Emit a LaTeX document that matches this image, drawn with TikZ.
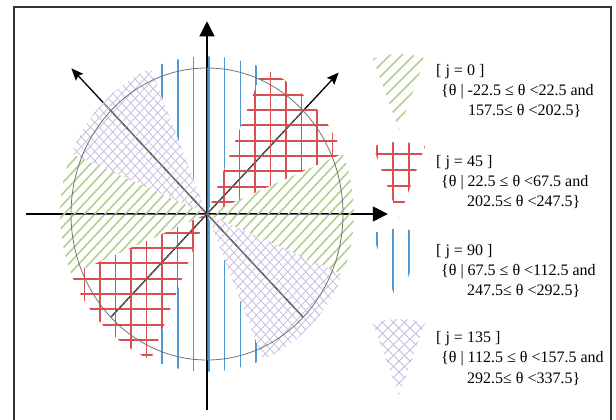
\documentclass[tikz,border=0pt]{standalone}
\usepackage{fontspec}
\setmainfont{Liberation Serif}
\usetikzlibrary{positioning,arrows.meta}
\definecolor{hatchgreen}{RGB}{180,208,142}
\definecolor{hatchred}{RGB}{218,80,80}
\definecolor{hatchblue}{RGB}{78,152,214}
\definecolor{hatchpurple}{RGB}{200,186,222}
\tikzset{
    sectorframe/.style={draw=black!80, line width=1.3pt},
    sectoraxis/.style={draw, line width=1.2pt, -{Triangle[length=15pt, width=15pt]}},
    sectordiag/.style={draw, line width=1.3pt, -{Stealth[length=12pt, width=10pt, inset=2pt]}},
    sectorinner/.style={draw=black!60, line width=0.8pt},
    sectorcircle/.style={draw=black!55, line width=0.8pt},
    hatchzero/.style={draw=hatchgreen, line width=1.6pt},
    hatchfortyfive/.style={draw=hatchred, line width=1.8pt},
    hatchninety/.style={draw=hatchblue, line width=1.5pt},
    hatchonethirtyfive/.style={draw=hatchpurple, line width=0.75pt},
    legendhead/.style={anchor=base west, inner sep=0pt, font=\fontsize{16}{18}\selectfont},
    legendline/.style={legendhead}
}

\begin{document}
\begin{tikzpicture}[x=1pt, y=1pt]
    \useasboundingbox (0,0) rectangle (616,420);
    \draw[sectorframe] (14,-2) -- (14,413) -- (611,413) -- (611,-2);

    % sector diagram
    \begin{scope}[shift={(207,206)}, x=136pt, y=146pt]
        \coordinate (origin) at (0,0);
        \coordinate (westend) at (-1.33,0);
        \coordinate (eastend) at (1.33,0);
        \coordinate (southend) at (0,-1.34);
        \coordinate (northend) at (0,1.32);
        \coordinate (swend) at (225:1);
        \coordinate (neend) at (45:1.37);
        \coordinate (seend) at (315:1);
        \coordinate (nwend) at (135:1.41);
        \coordinate (westrim) at (180:1);
        \coordinate (eastrim) at (0:1);
        \coordinate (southrim) at (270:1);
        \coordinate (northrim) at (90:1);
        \coordinate (nerim) at (45:1);
        \coordinate (nwrim) at (135:1);

        \draw[sectoraxis] (westend) -- (eastend);
        \draw[sectoraxis] (southend) -- (northend);
        \draw[sectordiag] (swend) -- (neend);
        \draw[sectordiag] (seend) -- (nwend);

        % j = 0
        \begin{scope}
            \clip (0,0) -- (-22.5:1.08) arc[start angle=-22.5, end angle=22.5, radius=1.08] -- cycle
                  (0,0) -- (157.5:1.08) arc[start angle=157.5, end angle=202.5, radius=1.08] -- cycle;
            \foreach \k in {-22,...,22}
                \draw[hatchzero] (\k*0.075-1.2,-1.2) -- ++(2.4,2.4);
        \end{scope}

        % j = 45
        \begin{scope}
            \clip (0,0) -- (22.5:1.08) arc[start angle=22.5, end angle=67.5, radius=1.08] -- cycle
                  (0,0) -- (202.5:1.08) arc[start angle=202.5, end angle=247.5, radius=1.08] -- cycle;
            \foreach \k in {-11,...,11} {
                \draw[hatchfortyfive] (0.125+\k*0.114,-1.2) -- ++(0,2.4);
                \draw[hatchfortyfive] (-1.2,0.082+\k*0.105) -- ++(2.4,0);
            }
        \end{scope}

        % j = 90
        \begin{scope}
            \clip (0,0) -- (67.5:1.08) arc[start angle=67.5, end angle=112.5, radius=1.08] -- cycle
                  (0,0) -- (247.5:1.08) arc[start angle=247.5, end angle=292.5, radius=1.08] -- cycle;
            \foreach \k in {-4,...,4}
                \draw[hatchninety] (0.015+\k*0.115,-1.2) -- ++(0,2.4);
        \end{scope}

        % j = 135
        \begin{scope}
            \clip (0,0) -- (112.5:1.08) arc[start angle=112.5, end angle=157.5, radius=1.08] -- cycle
                  (0,0) -- (292.5:1.08) arc[start angle=292.5, end angle=337.5, radius=1.08] -- cycle;
            \foreach \k in {-34,...,34} {
                \draw[hatchonethirtyfive] (\k*0.066-1.2,-1.2) -- ++(2.4,2.4);
                \draw[hatchonethirtyfive] (\k*0.066+1.2,-1.2) -- ++(-2.4,2.4);
            }
        \end{scope}

        \draw[sectorinner] (westrim) -- (eastrim);
        \draw[sectorinner] (southrim) -- (northrim);
        \draw[sectorinner] (swend) -- (nerim);
        \draw[sectorinner] (seend) -- (nwrim);
        \draw[sectorcircle] (origin) circle[radius=1];
    \end{scope}

    % legend icons
    \begin{scope}
        \clip (399,290) -- ++(70:76) arc[start angle=70, end angle=110, radius=76] -- cycle;
        \foreach \k in {-5,...,9}
            \draw[hatchzero] (339+\k*12,290) -- ++(90,90);
    \end{scope}
    \begin{scope}
        \clip (399,202) -- ++(70:76) arc[start angle=70, end angle=110, radius=76] -- cycle;
        \foreach \k in {-2,...,2}
            \draw[hatchfortyfive] (393+\k*16,200) -- ++(0,85);
        \foreach \k in {-1,...,4}
            \draw[hatchfortyfive] (368,218+\k*16) -- ++(64,0);
    \end{scope}
    \begin{scope}
        \clip (398,115) -- ++(70:76) arc[start angle=70, end angle=110, radius=76] -- cycle;
        \foreach \k in {-2,...,2}
            \draw[hatchninety] (393+\k*16,110) -- ++(0,85);
    \end{scope}
    \begin{scope}
        \clip (399,25) -- ++(70:76) arc[start angle=70, end angle=110, radius=76] -- cycle;
        \foreach \k in {-10,...,10} {
            \draw[hatchonethirtyfive] (399+\k*11-50,20) -- ++(90,90);
            \draw[hatchonethirtyfive] (399+\k*11+50,20) -- ++(-90,90);
        }
    \end{scope}

    % legend texts
    \node[legendhead] (headzero) at (436,344) {[ j = 0 ]};
    \node[legendline] (setzero) at ([shift={(5,-20)}]headzero.base west) {\{θ | -22.5 ≤ θ <22.5 and};
    \node[legendline] (setzerob) at ([shift={(32,-40)}]headzero.base west) {157.5≤ θ <202.5\}};

    \node[legendhead] (headfortyfive) at (436,253) {[ j = 45 ]};
    \node[legendline] (setfortyfive) at ([shift={(5,-20)}]headfortyfive.base west) {\{θ | 22.5 ≤ θ <67.5 and};
    \node[legendline] (setfortyfiveb) at ([shift={(31,-40)}]headfortyfive.base west) {202.5≤ θ <247.5\}};

    \node[legendhead] (headninety) at (436,164) {[ j = 90 ]};
    \node[legendline] (setninety) at ([shift={(5,-20)}]headninety.base west) {\{θ | 67.5 ≤ θ <112.5 and};
    \node[legendline] (setninetyb) at ([shift={(31,-40)}]headninety.base west) {247.5≤ θ <292.5\}};

    \node[legendhead] (headonethirtyfive) at (436,77) {[ j = 135 ]};
    \node[legendline] (setonethirtyfive) at ([shift={(5,-20)}]headonethirtyfive.base west) {\{θ | 112.5 ≤ θ <157.5 and};
    \node[legendline] (setonethirtyfiveb) at ([shift={(31,-41)}]headonethirtyfive.base west) {292.5≤ θ <337.5\}};
\end{tikzpicture}
\end{document}
